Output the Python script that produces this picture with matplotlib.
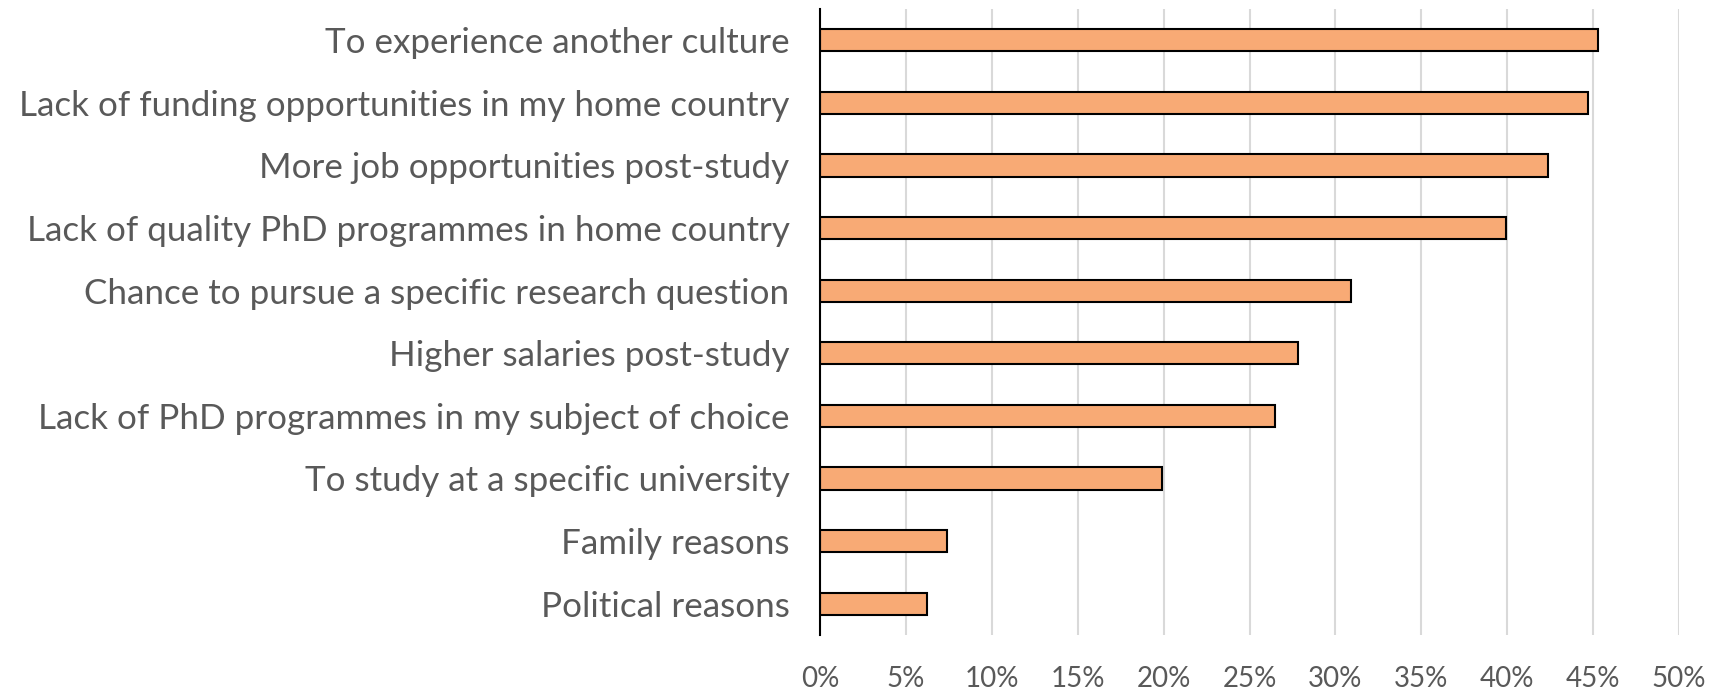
import numpy as np
import matplotlib.pyplot as plt

reasons = [
    "To experience another culture",
    "Lack of funding opportunities in my home country",
    "More job opportunities post-study",
    "Lack of quality PhD programmes in home country",
    "Chance to pursue a specific research question",
    "Higher salaries post-study",
    "Lack of PhD programmes in my subject of choice",
    "To study at a specific university",
    "Family reasons",
    "Political reasons",
]
share = [45.3, 44.7, 42.4, 39.9, 30.9, 27.8, 26.5, 19.9, 7.4, 6.2]
xticks = [0, 5, 10, 15, 20, 25, 30, 35, 40, 45, 50]

plt.rcParams['font.family'] = ['Lato', 'DejaVu Sans']
grey = '#595959'

fig = plt.figure(figsize=(17.31, 6.92), dpi=100)
ax = fig.add_axes([0.4737, 0.0824, 0.970 - 0.4737, 0.987 - 0.0824])

y = np.arange(len(reasons))
ax.barh(y, share, height=0.357, color='#F8AA75', edgecolor='black', linewidth=1.5, zorder=3)

ax.set_ylim(len(reasons) - 0.5, -0.5)
ax.set_xlim(0, 50)
ax.set_yticks(y)
ax.set_yticklabels(reasons, fontsize=25.2, color=grey)
ax.set_xticks(xticks)
ax.set_xticklabels([f"{t}%" for t in xticks], fontsize=20, color=grey)
ax.tick_params(axis='both', length=0)
ax.tick_params(axis='y', pad=22)
ax.tick_params(axis='x', pad=22)

ax.grid(axis='x', color='#D9D9D9', linewidth=1.5, zorder=0)
for s in ['top', 'right', 'bottom']:
    ax.spines[s].set_visible(False)
ax.spines['left'].set_color('black')
ax.spines['left'].set_linewidth(1.5)
ax.spines['left'].set_zorder(4)

fig.savefig('out.png', dpi=100)
